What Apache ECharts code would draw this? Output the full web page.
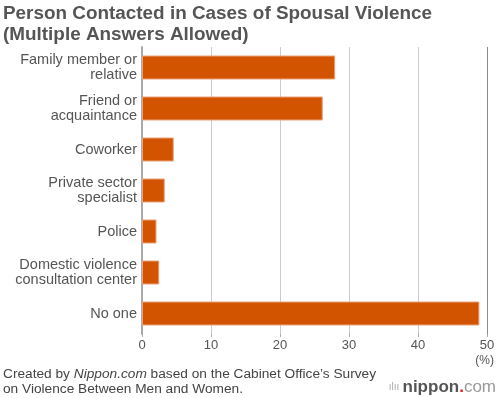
<!DOCTYPE html>
<html><head><meta charset="utf-8">
<script src="https://cdn.jsdelivr.net/npm/echarts@6/dist/echarts.min.js"></script>
<style>html,body{margin:0;padding:0;background:#fff}#c{width:499px;height:398px}</style>
</head><body><div id="c"></div>
<script>
const categories = ["Family member or\nrelative","Friend or\nacquaintance","Coworker","Private sector\nspecialist","Police","Domestic violence\nconsultation center","No one"];
const values = [28.0, 26.2, 4.6, 3.3, 2.1, 2.5, 48.9];
const xTicks = [0, 10, 20, 30, 40, 50];
const titleLines = ["Person Contacted in Cases of Spousal Violence", "(Multiple Answers Allowed)"];
const unitLabel = "(%)";

const FONT = "Liberation Sans, Arial, Helvetica, sans-serif";
const chart = echarts.init(document.getElementById('c'), null, {renderer:'canvas'});
chart.setOption({
  animation:false,
  textStyle:{fontFamily:FONT},
  title:{
    text: titleLines.join("\n"),
    left:3, top:3, padding:0,
    textStyle:{fontSize:18.9, fontWeight:'bold', color:'#555', lineHeight:21, fontFamily:FONT}
  },
  grid:{left:142, right:12, top:47, bottom:64, containLabel:false},
  xAxis:{
    type:'value', min:xTicks[0], max:xTicks[xTicks.length-1], interval:10,
    axisLine:{show:false},
    axisTick:{show:true, length:3, lineStyle:{color:'#aaa'}},
    axisLabel:{color:'#555', fontSize:13, margin:5, fontFamily:FONT},
    splitLine:{show:true, lineStyle:{color:['#ccc','#ccc','#ccc','#ccc','#ccc','#8c8c8c'], width:1}}
  },
  yAxis:{
    type:'category', data:categories, inverse:true,
    axisLine:{show:true, lineStyle:{color:'#aaa', width:2}},
    axisTick:{show:false},
    axisLabel:{color:'#555', fontSize:14.5, margin:5, lineHeight:15, fontFamily:FONT, align:'right', padding:[2,0,0,0]}
  },
  series:[{
    type:'bar', data:values, barWidth:24,
    itemStyle:{color:'#d35400', borderColor:'#eba37a', borderWidth:1},
    silent:true
  }],
  graphic:[
    {type:'text', right:5, top:355, style:{text:unitLabel, fill:'#555', fontSize:12, fontFamily:FONT}},
    {type:'text', left:3, top:367, style:{
      text:"Created by {i|Nippon.com} based on the Cabinet Office’s Survey\non Violence Between Men and Women.",
      rich:{i:{fontStyle:'italic', fill:'#444', fontSize:13.7, fontFamily:FONT}},
      fill:'#444', fontSize:13.7, lineHeight:15, fontFamily:FONT}},
    {type:'text', right:3, top:379, style:{
      text:"{bar|ılıı} {n|nippon}{d|.}{c|com}",
      rich:{
        bar:{fill:'#aaa', fontSize:10, fontFamily:FONT},
        n:{fill:'#555', fontSize:17, fontWeight:'bold', fontFamily:FONT},
        d:{fill:'#e02020', fontSize:17, fontWeight:'bold', fontFamily:FONT},
        c:{fill:'#999', fontSize:17, fontFamily:FONT}
      }}}
  ]
});
</script></body></html>
